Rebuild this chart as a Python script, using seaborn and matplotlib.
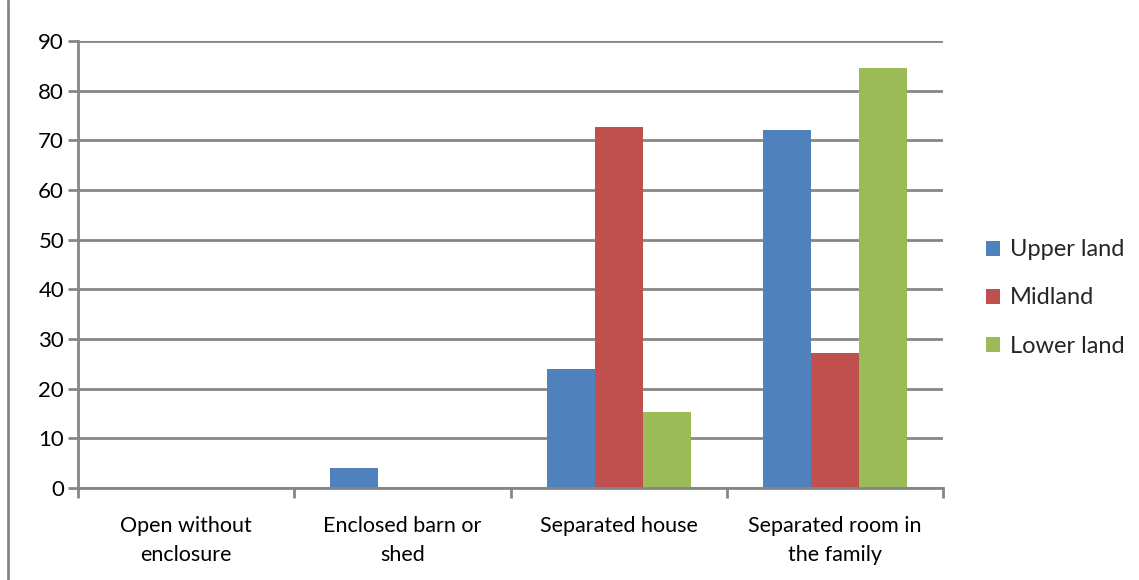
import matplotlib
matplotlib.use("Agg")
import matplotlib.pyplot as plt
import seaborn as sns
import pandas as pd
from matplotlib.lines import Line2D
from matplotlib.patches import Patch

categories = ["Open without\nenclosure", "Enclosed barn or\nshed", "Separated house", "Separated room in\nthe family"]
series = ["Upper land", "Midland", "Lower land"]
upper_land = [0, 4, 24, 72]
midland = [0, 0, 72.7, 27.1]
lower_land = [0, 0, 15.3, 84.5]
colors = ["#4F81BD", "#C0504D", "#9BBB59"]
y_ticks = [0, 10, 20, 30, 40, 50, 60, 70, 80, 90]

rows = []
for name, vals in zip(series, [upper_land, midland, lower_land]):
    for cat, v in zip(categories, vals):
        rows.append({"category": cat, "region": name, "value": v})
df = pd.DataFrame(rows)

sns.set_style("white")
plt.rcParams["font.family"] = ["Lato", "DejaVu Sans"]

grid_c = "#868686"
fig = plt.figure(figsize=(11.39, 5.8), dpi=100)
ax = fig.add_axes([78 / 1139, 92 / 580, (943 - 78) / 1139, (488 - 41) / 580])

sns.barplot(data=df, x="category", y="value", hue="region", hue_order=series,
            order=categories, palette=colors, width=0.667, saturation=1,
            ax=ax, legend=False, errorbar=None, linewidth=0)

ax.set_ylim(0, 90)
ax.set_xlim(-0.5, len(categories) - 0.5)
ax.set_yticks(y_ticks)
ax.set_yticklabels([str(t) for t in y_ticks], fontsize=16, color="#000000")
ax.yaxis.grid(True, color=grid_c, linewidth=2)
ax.set_axisbelow(True)
ax.set_xlabel("")
ax.set_ylabel("")

ax.set_xticks(range(len(categories)))
ax.set_xticklabels(categories, fontsize=15.5, color="#000000", linespacing=1.6)
ax.tick_params(axis="x", which="major", length=0, pad=20)
ax.set_xticks([i - 0.5 for i in range(len(categories) + 1)], minor=True)
ax.tick_params(axis="x", which="minor", length=7, width=2, color=grid_c, direction="out")
ax.tick_params(axis="y", length=7, width=2, color=grid_c, direction="out", pad=3)
ax.tick_params(axis="both", bottom=True, left=True)
ax.xaxis.set_tick_params(which="minor", bottom=True)

for side in ["top", "right"]:
    ax.spines[side].set_visible(False)
for side in ["left", "bottom"]:
    ax.spines[side].set_color(grid_c)
    ax.spines[side].set_linewidth(2)

handles = [Patch(facecolor=c, edgecolor="none") for c in colors]
fig.legend(handles, series, loc="center left", bbox_to_anchor=(965 / 1139, (580 - 298) / 580),
           frameon=False, fontsize=17, handlelength=0.6, handleheight=0.6,
           handletextpad=0.4, labelspacing=1.15)

fig.add_artist(Line2D([8 / 1139, 8 / 1139], [0, 1], transform=fig.transFigure,
                      color=grid_c, linewidth=2))

fig.savefig("out.png", dpi=100, facecolor="white")
